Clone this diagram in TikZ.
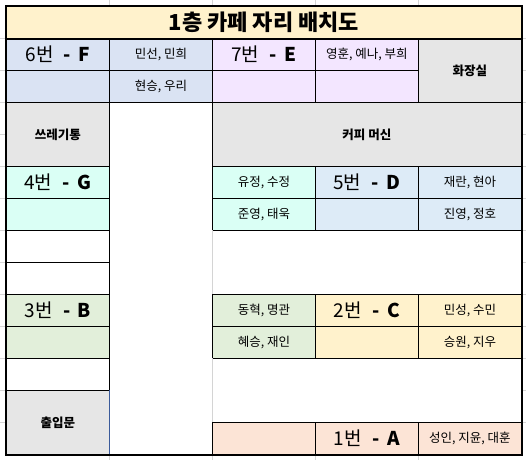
\documentclass[tikz,border=0pt]{standalone}
\usepackage{fontspec}
\setmainfont{Noto Sans CJK KR}
\definecolor{titlebg}{HTML}{FFF2CC}
\definecolor{blueF}{HTML}{DAE3F3}
\definecolor{lav}{HTML}{F3E6FF}
\definecolor{grayc}{HTML}{E6E6E6}
\definecolor{cyanc}{HTML}{DAFFF5}
\definecolor{blueD}{HTML}{DDEBF7}
\definecolor{greenc}{HTML}{E2EFDA}
\definecolor{yellowc}{HTML}{FFF2CC}
\definecolor{peach}{HTML}{FCE4D6}
\definecolor{gridc}{HTML}{D4D4D4}
\definecolor{selblue}{HTML}{3A5A9A}
\newcommand{\seatlbl}[2]{#1번\hspace{0.55em}\textbf{-}\hspace{0.4em}\textbf{#2}}
\begin{document}
\begin{tikzpicture}[x=1pt,y=-1pt,
  cell/.style={draw=black, line width=0.8pt, inner sep=0pt, minimum width=103pt,
    minimum height=32pt, anchor=north west, align=center},
  open/.style={inner sep=0pt, minimum width=103pt, minimum height=32pt,
    anchor=north west, fill=white},
  big/.style={font=\fontsize{19}{21}\selectfont},
  nm/.style={font=\fontsize{12.5}{14}\selectfont},
  lbl/.style={font=\fontsize{12.5}{14}\selectfont\bfseries},
  ttl/.style={font=\fontsize{22}{25}\selectfont\bfseries},
  tall/.style={minimum height=64pt}]
\useasboundingbox (0,0) rectangle (526,460);
\fill[white] (0,0) rectangle (526,460);
% spreadsheet grid visible in the margins
\foreach \gx in {109,212,315,418} {
  \draw[gridc, line width=0.8pt] (\gx,0) -- (\gx,6);
  \draw[gridc, line width=0.8pt] (\gx,454) -- (\gx,460);
}
\foreach \gy in {38,70,102,134,166,198,230,262,294,326,358,390,422} {
  \draw[gridc, line width=0.8pt] (0,\gy) -- (6,\gy);
  \draw[gridc, line width=0.8pt] (521,\gy) -- (526,\gy);
}
% corridor and open areas
\node[open, minimum height=352pt] (hall) at (109,102) {};
\node[open, minimum width=309pt, tall] (mid1) at (212,230) {};
\node[open, minimum width=309pt, tall] (mid2) at (212,358) {};
% title
\node[cell, fill=titlebg, minimum width=515pt, ttl] (title) at (6,6) {1층 카페 자리 배치도};
% row F / E
\node[cell, fill=blueF, big] (f1) at (6,38) {\seatlbl{6}{F}};
\node[cell, fill=blueF] (f2) at (6,70) {};
\node[cell, fill=blueF, nm] (f3) at (109,38) {민선, 민희};
\node[cell, fill=blueF, nm] (f4) at (109,70) {현승, 우리};
\node[cell, fill=lav, big] (e1) at (212,38) {\seatlbl{7}{E}};
\node[cell, fill=lav] (e2) at (212,70) {};
\node[cell, fill=lav, nm] (e3) at (315,38) {영훈, 예나, 부희};
\node[cell, fill=lav] (e4) at (315,70) {};
\node[cell, fill=grayc, tall, lbl] (wc) at (418,38) {화장실};
% trash / coffee
\node[cell, fill=grayc, tall, lbl] (trash) at (6,102) {쓰레기통};
\node[cell, fill=grayc, tall, minimum width=309pt, lbl] (coffee) at (212,102) {커피 머신};
% G / D
\node[cell, fill=cyanc, big] (g1) at (6,166) {\seatlbl{4}{G}};
\node[cell, fill=cyanc] (g2) at (6,198) {};
\node[cell, fill=cyanc, nm] (g3) at (212,166) {유정, 수정};
\node[cell, fill=cyanc, nm] (g4) at (212,198) {준영, 태욱};
\node[cell, fill=blueD, big] (d1) at (315,166) {\seatlbl{5}{D}};
\node[cell, fill=blueD] (d2) at (315,198) {};
\node[cell, fill=blueD, nm] (d3) at (418,166) {재란, 현아};
\node[cell, fill=blueD, nm] (d4) at (418,198) {진영, 정호};
% empty left cells
\node[cell, fill=white] (w1) at (6,230) {};
\node[cell, fill=white] (w2) at (6,262) {};
% B / C
\node[cell, fill=greenc, big] (b1) at (6,294) {\seatlbl{3}{B}};
\node[cell, fill=greenc] (b2) at (6,326) {};
\node[cell, fill=greenc, nm] (b3) at (212,294) {동혁, 명관};
\node[cell, fill=greenc, nm] (b4) at (212,326) {혜승, 재인};
\node[cell, fill=yellowc, big] (c1) at (315,294) {\seatlbl{2}{C}};
\node[cell, fill=yellowc] (c2) at (315,326) {};
\node[cell, fill=yellowc, nm] (c3) at (418,294) {민성, 수민};
\node[cell, fill=yellowc, nm] (c4) at (418,326) {승원, 지우};
% bottom
\node[cell, fill=white] (w3) at (6,358) {};
\node[cell, fill=grayc, tall, lbl] (door) at (6,390) {출입문};
\node[cell, fill=peach] (a0) at (212,422) {};
\node[cell, fill=peach, big] (a1) at (315,422) {\seatlbl{1}{A}};
\node[cell, fill=peach, nm] (a2) at (418,422) {성인, 지윤, 대훈};
% grid lines along open areas
\draw[gridc, line width=0.8pt] (mid1.north west) -- (mid1.south west);
\draw[gridc, line width=0.8pt] (mid2.north west) -- (mid2.south west);
\draw[selblue, line width=0.8pt] (door.north east) -- (door.south east);
% heavy lines
\draw[line width=1.5pt] (title.south west) -- (title.south east);
\draw[line width=2.4pt] (title.north west) rectangle (a2.south east);
\end{tikzpicture}
\end{document}
